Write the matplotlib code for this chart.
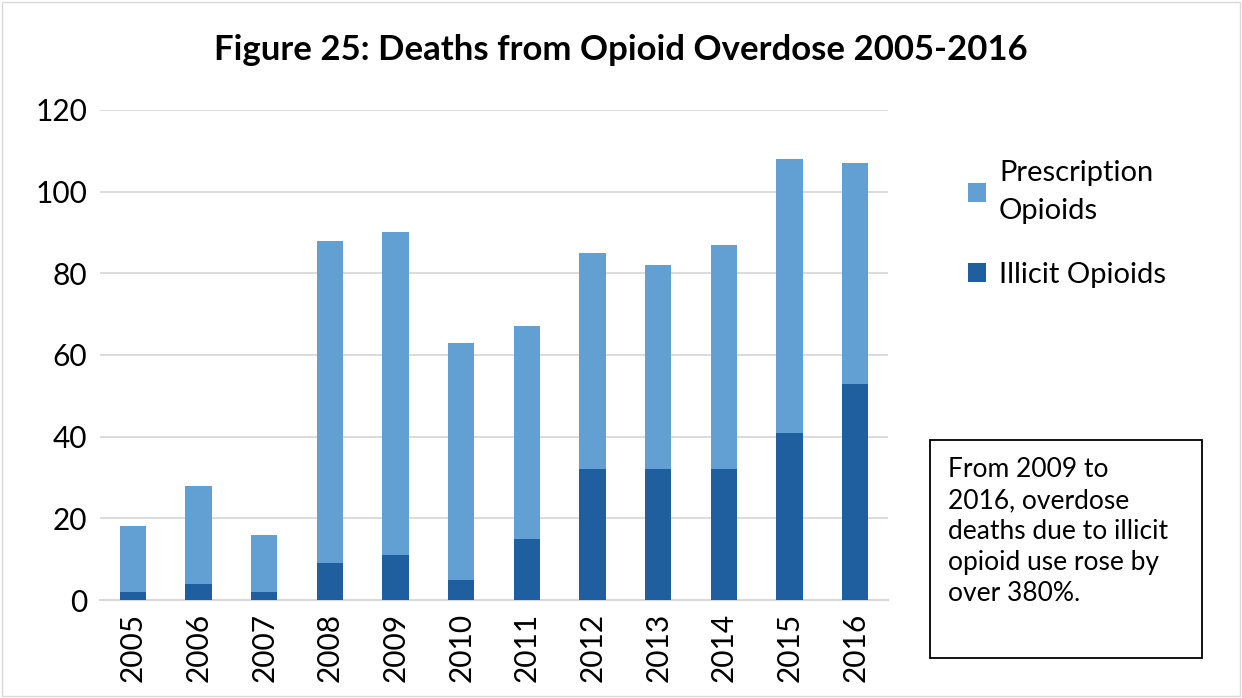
import matplotlib
matplotlib.use("Agg")
import matplotlib.pyplot as plt
from matplotlib.patches import Rectangle

plt.rcParams['font.family'] = ['Lato', 'DejaVu Sans']

years = ['2005', '2006', '2007', '2008', '2009', '2010',
         '2011', '2012', '2013', '2014', '2015', '2016']
illicit = [2, 4, 2, 9, 11, 5, 15, 32, 32, 32, 41, 53]
totals = [18, 28, 16, 88, 90, 63, 67, 85, 82, 87, 108, 107]
prescription = [t - i for t, i in zip(totals, illicit)]

light = '#629FD3'
dark = '#1F5F9F'

fig = plt.figure(figsize=(12.42, 6.98), dpi=100)
ax = fig.add_axes([100/1242, 1-600/698, 788/1242, 490/698])

x = range(len(years))
ax.bar(x, illicit, width=0.4, color=dark, label='Illicit Opioids', zorder=3)
ax.bar(x, prescription, width=0.4, bottom=illicit, color=light,
       label='Prescription\nOpioids', zorder=3)

ax.set_xlim(-0.5, len(years)-0.5)
ax.set_ylim(0, 120)
ax.set_yticks(range(0, 121, 20))
ax.set_xticks(list(x))
ax.set_xticklabels(years, rotation=90)
ax.tick_params(axis='both', length=0, labelsize=21.5, pad=9)
ax.grid(axis='y', color='#D9D9D9', linewidth=1.3, zorder=0)
for s in ['top', 'right', 'left']:
    ax.spines[s].set_visible(False)
ax.spines['bottom'].set_color('#D9D9D9')
ax.spines['bottom'].set_linewidth(1.5)

fig.text(0.5, 1-50/698, 'Figure 25: Deaths from Opioid Overdose 2005-2016',
         ha='center', va='center', fontsize=25, fontweight='bold')

h, l = ax.get_legend_handles_labels()
leg = fig.legend(h[::-1], l[::-1], loc='upper left', bbox_to_anchor=(942/1242, 1-134/698),
                 frameon=False, fontsize=21, handlelength=0.6, handleheight=0.6,
                 labelspacing=1.3, handletextpad=0.45)
for t in leg.get_texts():
    t.set_linespacing(1.55)

# annotation box
fig.patches.append(Rectangle((930/1242, 1-658/698), 272/1242, 218/698,
                             transform=fig.transFigure, fill=False,
                             edgecolor='black', linewidth=1.3))
fig.text(948/1242, 1-457/698,
         'From 2009 to\n2016, overdose\ndeaths due to illicit\nopioid use rose by\nover 380%.',
         ha='left', va='top', fontsize=19, linespacing=1.3)

# outer border
fig.patches.append(Rectangle((0.002, 0.003), 0.996, 0.994, transform=fig.transFigure,
                             fill=False, edgecolor='#D9D9D9', linewidth=1))

fig.savefig('out.png', dpi=100)
